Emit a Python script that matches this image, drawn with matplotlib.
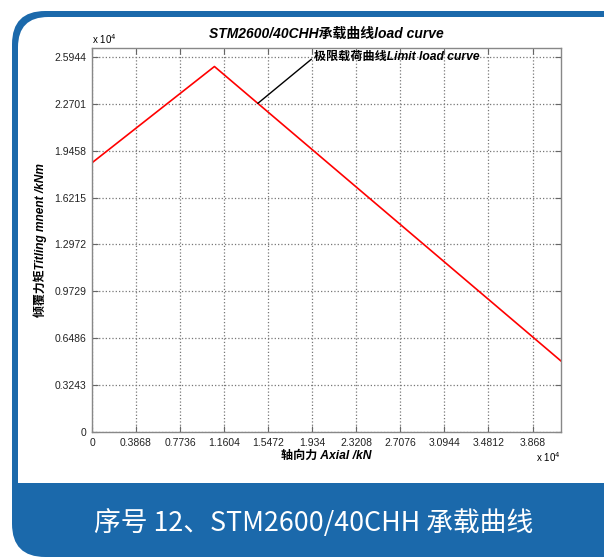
import matplotlib
matplotlib.use('Agg')
import matplotlib.pyplot as plt
from matplotlib.patches import FancyBboxPatch, Rectangle

plt.rcParams['font.family'] = ['Liberation Sans', 'Noto Sans CJK SC']

# load curve (axial force kN, tilting moment kNm)
axial = [0, 10750, 41180]
moment = [18620, 25280, 4910]

x_ticks = [0, 3868, 7736, 11604, 15472, 19340, 23208, 27076, 30944, 34812, 38680]
x_labels = ['0', '0.3868', '0.7736', '1.1604', '1.5472', '1.934', '2.3208',
            '2.7076', '3.0944', '3.4812', '3.868']
y_ticks = [0, 3243, 6486, 9729, 12972, 16215, 19458, 22701, 25944]
y_labels = ['0', '0.3243', '0.6486', '0.9729', '1.2972', '1.6215', '1.9458',
            '2.2701', '2.5944']

blue = '#1b69ab'
W, H = 604, 558

fig = plt.figure(figsize=(W / 100, H / 100), dpi=100)

# card background: blue rounded frame, white panel, blue footer band
def box(x0, y0, x1, y1):
    return (x0 / W, 1 - y1 / H, (x1 - x0) / W, (y1 - y0) / H)

x, y, w, h = box(12, 11, 640, 557)
fig.patches.append(FancyBboxPatch((x, y), w, h, boxstyle='round,pad=0,rounding_size=0.055',
                                  transform=fig.transFigure, fc=blue, ec='none',
                                  mutation_aspect=W / H, zorder=-3))
x, y, w, h = box(18, 17, 634, 483)
fig.patches.append(FancyBboxPatch((x, y), w, h, boxstyle='round,pad=0,rounding_size=0.05',
                                  transform=fig.transFigure, fc='white', ec='none',
                                  mutation_aspect=W / H, zorder=-2))
x, y, w, h = box(18, 200, 634, 483)
fig.patches.append(Rectangle((x, y), w, h, transform=fig.transFigure, fc='white', ec='none',
                             zorder=-2))

fig.text(314 / W, 1 - 523 / H, '序号 12、STM2600/40CHH 承载曲线', color='white',
         fontsize=19.3, ha='center', va='center', family=['Noto Sans CJK SC'])

ax = fig.add_axes([92 / W, 1 - 432 / H, (561 - 92) / W, (432 - 48) / H])
ax.plot(axial, moment, color='red', lw=1.2)

ax.set_xlim(0, 41180)
ax.set_ylim(0, 26560)
ax.set_xticks(x_ticks)
ax.set_xticklabels(x_labels)
ax.set_yticks(y_ticks)
ax.set_yticklabels(y_labels)
ax.tick_params(direction='in', length=4, width=0.8, color='#666666', labelsize=7.5,
               labelcolor='#222222', top=True, right=True, pad=4)
ax.grid(True, linestyle=':', color='#777777', lw=0.9)
for s in ax.spines.values():
    s.set_color('#888888')
    s.set_linewidth(1.0)

ax.set_title('STM2600/40CHH承载曲线load curve', fontsize=10, fontweight='bold',
             style='italic', pad=7)
ax.set_xlabel('轴向力 Axial /kN', fontsize=8.7, fontweight='bold', style='italic', labelpad=2)
ax.set_ylabel('倾覆力矩Titling mnent /kNm', fontsize=8.6, fontweight='bold', style='italic',
              labelpad=5)

ax.annotate('极限载荷曲线Limit load curve', xy=(14560, 22730), xytext=(19510, 25944),
            fontsize=8.7, fontweight='bold', style='italic', va='center', ha='left',
            arrowprops=dict(arrowstyle='-', color='black', lw=1.0, shrinkA=0, shrinkB=0,
                            relpos=(0, 0.5)))

ax.text(0, 1.004, r'x 10$^4$', transform=ax.transAxes, fontsize=7, va='bottom', ha='left')
ax.text(1.0, -0.048, r'x 10$^4$', transform=ax.transAxes, fontsize=7, va='top', ha='right')

fig.savefig('out.png', dpi=100)
